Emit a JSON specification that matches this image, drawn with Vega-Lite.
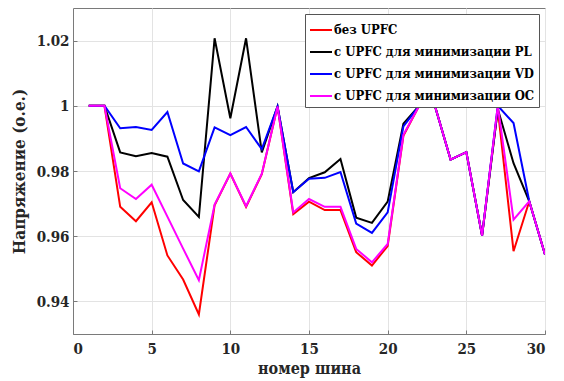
{
  "$schema": "https://vega.github.io/schema/vega-lite/v6.json",
  "width": 472,
  "height": 326,
  "autosize": "none",
  "padding": {"left": 73, "top": 8, "right": 19, "bottom": 47},
  "background": "white",
  "config": {
    "view": {"stroke": "#7a7a7a", "strokeWidth": 1},
    "font": "DejaVu Serif Condensed, DejaVu Serif",
    "axis": {
      "labelFont": "DejaVu Serif Condensed, DejaVu Serif",
      "labelFontWeight": "bold",
      "labelFontSize": 15,
      "labelColor": "#262626",
      "titleFont": "DejaVu Serif Condensed, DejaVu Serif",
      "titleFontWeight": "bold",
      "titleFontSize": 17,
      "titleColor": "#262626",
      "domainColor": "#7a7a7a",
      "tickColor": "#7a7a7a",
      "tickSize": -4,
      "gridColor": "#e3e3e3",
      "gridWidth": 1
    },
    "legend": {"labelFont": "DejaVu Serif Condensed, DejaVu Serif"}
  },
  "data": {
    "values": [
      {"bus": 1, "s": "r", "v": 1.0}, {"bus": 2, "s": "r", "v": 1.0}, {"bus": 3, "s": "r", "v": 0.969}, {"bus": 4, "s": "r", "v": 0.9646}, {"bus": 5, "s": "r", "v": 0.9704}, {"bus": 6, "s": "r", "v": 0.9541}, {"bus": 7, "s": "r", "v": 0.9467}, {"bus": 8, "s": "r", "v": 0.936}, {"bus": 9, "s": "r", "v": 0.9695}, {"bus": 10, "s": "r", "v": 0.9792}, {"bus": 11, "s": "r", "v": 0.969}, {"bus": 12, "s": "r", "v": 0.979}, {"bus": 13, "s": "r", "v": 0.9998}, {"bus": 14, "s": "r", "v": 0.9668}, {"bus": 15, "s": "r", "v": 0.9706}, {"bus": 16, "s": "r", "v": 0.968}, {"bus": 17, "s": "r", "v": 0.968}, {"bus": 18, "s": "r", "v": 0.9551}, {"bus": 19, "s": "r", "v": 0.951}, {"bus": 20, "s": "r", "v": 0.957}, {"bus": 21, "s": "r", "v": 0.9908}, {"bus": 22, "s": "r", "v": 1.0}, {"bus": 23, "s": "r", "v": 1.0}, {"bus": 24, "s": "r", "v": 0.9835}, {"bus": 25, "s": "r", "v": 0.9858}, {"bus": 26, "s": "r", "v": 0.9602}, {"bus": 27, "s": "r", "v": 0.999}, {"bus": 28, "s": "r", "v": 0.9554}, {"bus": 29, "s": "r", "v": 0.9707}, {"bus": 30, "s": "r", "v": 0.9544},
      {"bus": 1, "s": "k", "v": 1.0}, {"bus": 2, "s": "k", "v": 1.0}, {"bus": 3, "s": "k", "v": 0.9857}, {"bus": 4, "s": "k", "v": 0.9845}, {"bus": 5, "s": "k", "v": 0.9855}, {"bus": 6, "s": "k", "v": 0.9844}, {"bus": 7, "s": "k", "v": 0.9711}, {"bus": 8, "s": "k", "v": 0.9659}, {"bus": 9, "s": "k", "v": 1.0207}, {"bus": 10, "s": "k", "v": 0.9962}, {"bus": 11, "s": "k", "v": 1.0207}, {"bus": 12, "s": "k", "v": 0.9857}, {"bus": 13, "s": "k", "v": 0.9998}, {"bus": 14, "s": "k", "v": 0.9735}, {"bus": 15, "s": "k", "v": 0.9778}, {"bus": 16, "s": "k", "v": 0.9796}, {"bus": 17, "s": "k", "v": 0.9837}, {"bus": 18, "s": "k", "v": 0.9657}, {"bus": 19, "s": "k", "v": 0.9641}, {"bus": 20, "s": "k", "v": 0.9706}, {"bus": 21, "s": "k", "v": 0.9945}, {"bus": 22, "s": "k", "v": 1.0}, {"bus": 23, "s": "k", "v": 1.0}, {"bus": 24, "s": "k", "v": 0.9835}, {"bus": 25, "s": "k", "v": 0.9858}, {"bus": 26, "s": "k", "v": 0.9602}, {"bus": 27, "s": "k", "v": 0.999}, {"bus": 28, "s": "k", "v": 0.9824}, {"bus": 29, "s": "k", "v": 0.9707}, {"bus": 30, "s": "k", "v": 0.9544},
      {"bus": 1, "s": "b", "v": 1.0}, {"bus": 2, "s": "b", "v": 1.0}, {"bus": 3, "s": "b", "v": 0.9931}, {"bus": 4, "s": "b", "v": 0.9935}, {"bus": 5, "s": "b", "v": 0.9926}, {"bus": 6, "s": "b", "v": 0.9981}, {"bus": 7, "s": "b", "v": 0.9823}, {"bus": 8, "s": "b", "v": 0.9799}, {"bus": 9, "s": "b", "v": 0.9934}, {"bus": 10, "s": "b", "v": 0.991}, {"bus": 11, "s": "b", "v": 0.9935}, {"bus": 12, "s": "b", "v": 0.9867}, {"bus": 13, "s": "b", "v": 0.9998}, {"bus": 14, "s": "b", "v": 0.9735}, {"bus": 15, "s": "b", "v": 0.9776}, {"bus": 16, "s": "b", "v": 0.9779}, {"bus": 17, "s": "b", "v": 0.9797}, {"bus": 18, "s": "b", "v": 0.9639}, {"bus": 19, "s": "b", "v": 0.961}, {"bus": 20, "s": "b", "v": 0.9673}, {"bus": 21, "s": "b", "v": 0.9937}, {"bus": 22, "s": "b", "v": 1.0}, {"bus": 23, "s": "b", "v": 1.0}, {"bus": 24, "s": "b", "v": 0.9835}, {"bus": 25, "s": "b", "v": 0.9858}, {"bus": 26, "s": "b", "v": 0.9602}, {"bus": 27, "s": "b", "v": 1.0}, {"bus": 28, "s": "b", "v": 0.9947}, {"bus": 29, "s": "b", "v": 0.9707}, {"bus": 30, "s": "b", "v": 0.9544},
      {"bus": 1, "s": "m", "v": 1.0}, {"bus": 2, "s": "m", "v": 1.0}, {"bus": 3, "s": "m", "v": 0.9747}, {"bus": 4, "s": "m", "v": 0.9714}, {"bus": 5, "s": "m", "v": 0.9758}, {"bus": 6, "s": "m", "v": 0.966}, {"bus": 7, "s": "m", "v": 0.9562}, {"bus": 8, "s": "m", "v": 0.9465}, {"bus": 9, "s": "m", "v": 0.9697}, {"bus": 10, "s": "m", "v": 0.9792}, {"bus": 11, "s": "m", "v": 0.9692}, {"bus": 12, "s": "m", "v": 0.9792}, {"bus": 13, "s": "m", "v": 0.9998}, {"bus": 14, "s": "m", "v": 0.9673}, {"bus": 15, "s": "m", "v": 0.9714}, {"bus": 16, "s": "m", "v": 0.969}, {"bus": 17, "s": "m", "v": 0.969}, {"bus": 18, "s": "m", "v": 0.9561}, {"bus": 19, "s": "m", "v": 0.952}, {"bus": 20, "s": "m", "v": 0.9576}, {"bus": 21, "s": "m", "v": 0.9911}, {"bus": 22, "s": "m", "v": 1.0}, {"bus": 23, "s": "m", "v": 1.0}, {"bus": 24, "s": "m", "v": 0.9835}, {"bus": 25, "s": "m", "v": 0.9858}, {"bus": 26, "s": "m", "v": 0.9602}, {"bus": 27, "s": "m", "v": 1.0}, {"bus": 28, "s": "m", "v": 0.9651}, {"bus": 29, "s": "m", "v": 0.9707}, {"bus": 30, "s": "m", "v": 0.9544}
    ]
  },
  "mark": {"type": "line", "strokeWidth": 2, "clip": true},
  "encoding": {
    "x": {
      "field": "bus", "type": "quantitative",
      "scale": {"domain": [0, 30], "nice": false, "zero": false},
      "axis": {"values": [0, 5, 10, 15, 20, 25, 30], "title": "номер шина", "labelPadding": 11, "titlePadding": 4, "titleFontSize": 16, "grid": true}
    },
    "y": {
      "field": "v", "type": "quantitative",
      "scale": {"domain": [0.93, 1.03], "nice": false, "zero": false},
      "axis": {"values": [0.94, 0.96, 0.98, 1.0, 1.02], "format": ".2~f", "title": "Напряжение (о.е.)", "labelPadding": 8, "titlePadding": 8, "grid": true}
    },
    "color": {
      "field": "s", "type": "nominal",
      "scale": {"domain": ["r", "k", "b", "m"], "range": ["#ff0000", "#000000", "#0000ff", "#ff00ff"]},
      "legend": {
        "title": null,
        "orient": "top-right",
        "offset": 6,
        "strokeColor": "#555555",
        "fillColor": "white",
        "padding": 4,
        "symbolType": "stroke",
        "symbolSize": 484,
        "symbolStrokeWidth": 2,
        "labelFont": "DejaVu Serif Condensed, DejaVu Serif",
        "labelFontWeight": "bold",
        "labelFontSize": 13,
        "labelColor": "black",
        "labelOffset": 1,
        "labelLimit": 0,
        "rowPadding": 3,
        "labelExpr": "datum.label == 'r' ? 'без UPFC' : datum.label == 'k' ? 'с UPFC для минимизации PL' : datum.label == 'b' ? 'с UPFC для минимизации VD' : 'с UPFC для минимизации OC'"
      }
    }
  }
}
